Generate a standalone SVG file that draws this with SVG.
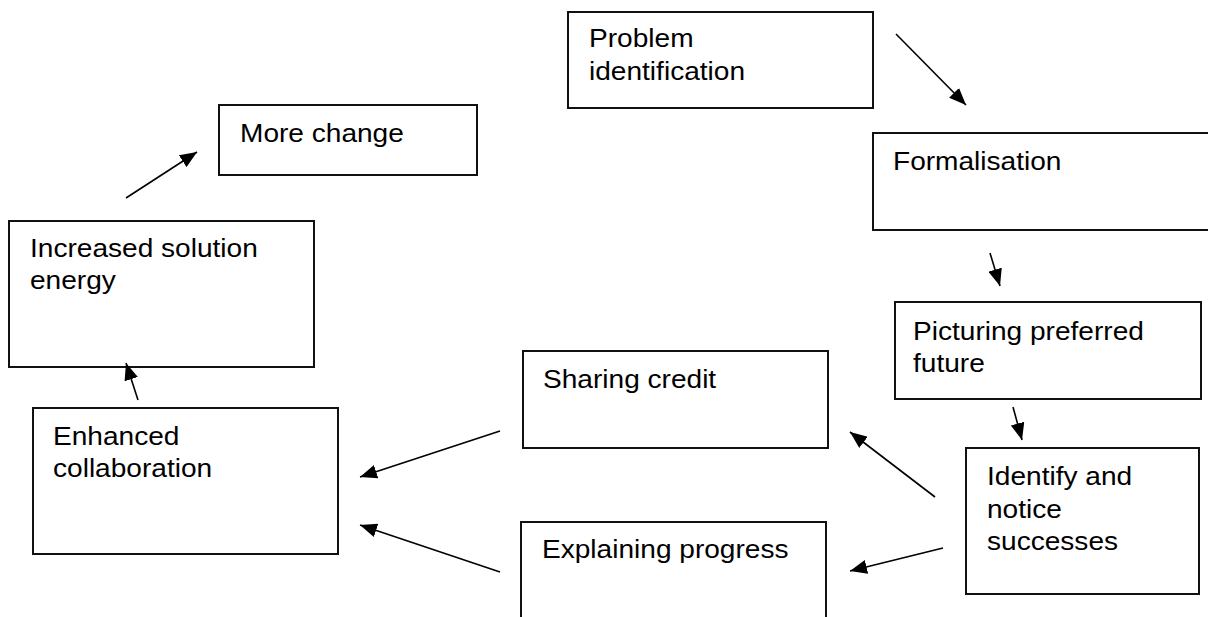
<svg xmlns="http://www.w3.org/2000/svg" width="1208" height="617" viewBox="0 0 1208 617">
<style>
.box{fill:#fff;stroke:#111;stroke-width:2}
.lbl{font-family:"Liberation Sans",Arial,sans-serif;font-size:26px;fill:#000}
.con{stroke:#000;stroke-width:1.6;fill:none;marker-end:url(#ah)}
</style>
<defs>
<marker id="ah" markerUnits="userSpaceOnUse" markerWidth="17" markerHeight="14" refX="17" refY="7" orient="auto">
<path d="M0,0 L17,7 L0,14 Z" fill="#000"/>
</marker>
</defs>
<rect width="1208" height="617" fill="#fff"/>
<g id="n-problem"><rect class="box" x="568" y="12" width="305" height="96"/>
<text class="lbl" transform="translate(589,47) scale(1.08,1)"><tspan x="0" y="0">Problem</tspan><tspan x="0" y="33">identification</tspan></text></g>
<g id="n-formalisation"><rect class="box" x="873" y="133" width="345" height="97"/>
<text class="lbl" transform="translate(893,170) scale(1.08,1)"><tspan x="0" y="0">Formalisation</tspan></text></g>
<g id="n-picturing"><rect class="box" x="895" y="302" width="306" height="97"/>
<text class="lbl" transform="translate(913,340) scale(1.08,1)"><tspan x="0" y="0">Picturing preferred</tspan><tspan x="0" y="32">future</tspan></text></g>
<g id="n-identify"><rect class="box" x="966" y="448" width="233" height="146"/>
<text class="lbl" transform="translate(987,485) scale(1.08,1)"><tspan x="0" y="0">Identify and</tspan><tspan x="0" y="33">notice</tspan><tspan x="0" y="65">successes</tspan></text></g>
<g id="n-sharing"><rect class="box" x="523" y="351" width="305" height="97"/>
<text class="lbl" transform="translate(543,388) scale(1.08,1)"><tspan x="0" y="0">Sharing credit</tspan></text></g>
<g id="n-explaining"><rect class="box" x="521" y="522" width="305" height="110"/>
<text class="lbl" transform="translate(542,558) scale(1.08,1)"><tspan x="0" y="0">Explaining progress</tspan></text></g>
<g id="n-enhanced"><rect class="box" x="33" y="408" width="305" height="146"/>
<text class="lbl" transform="translate(53,445) scale(1.08,1)"><tspan x="0" y="0">Enhanced</tspan><tspan x="0" y="32">collaboration</tspan></text></g>
<g id="n-increased"><rect class="box" x="9" y="221" width="305" height="146"/>
<text class="lbl" transform="translate(30,257) scale(1.08,1)"><tspan x="0" y="0">Increased solution</tspan><tspan x="0" y="32">energy</tspan></text></g>
<g id="n-more"><rect class="box" x="219" y="105" width="258" height="70"/>
<text class="lbl" transform="translate(240,142) scale(1.08,1)"><tspan x="0" y="0">More change</tspan></text></g>
<g id="connectors">
<line class="con" x1="896" y1="34" x2="966" y2="105"/>
<line class="con" x1="990" y1="253" x2="1000" y2="286"/>
<line class="con" x1="1013" y1="407" x2="1022" y2="440"/>
<line class="con" x1="935" y1="497" x2="850" y2="432"/>
<line class="con" x1="943" y1="548" x2="850" y2="571"/>
<line class="con" x1="500" y1="431" x2="360" y2="477"/>
<line class="con" x1="500" y1="572" x2="360" y2="525"/>
<line class="con" x1="138" y1="400" x2="126" y2="363"/>
<line class="con" x1="126" y1="198" x2="197" y2="152"/>
</g>
</svg>
